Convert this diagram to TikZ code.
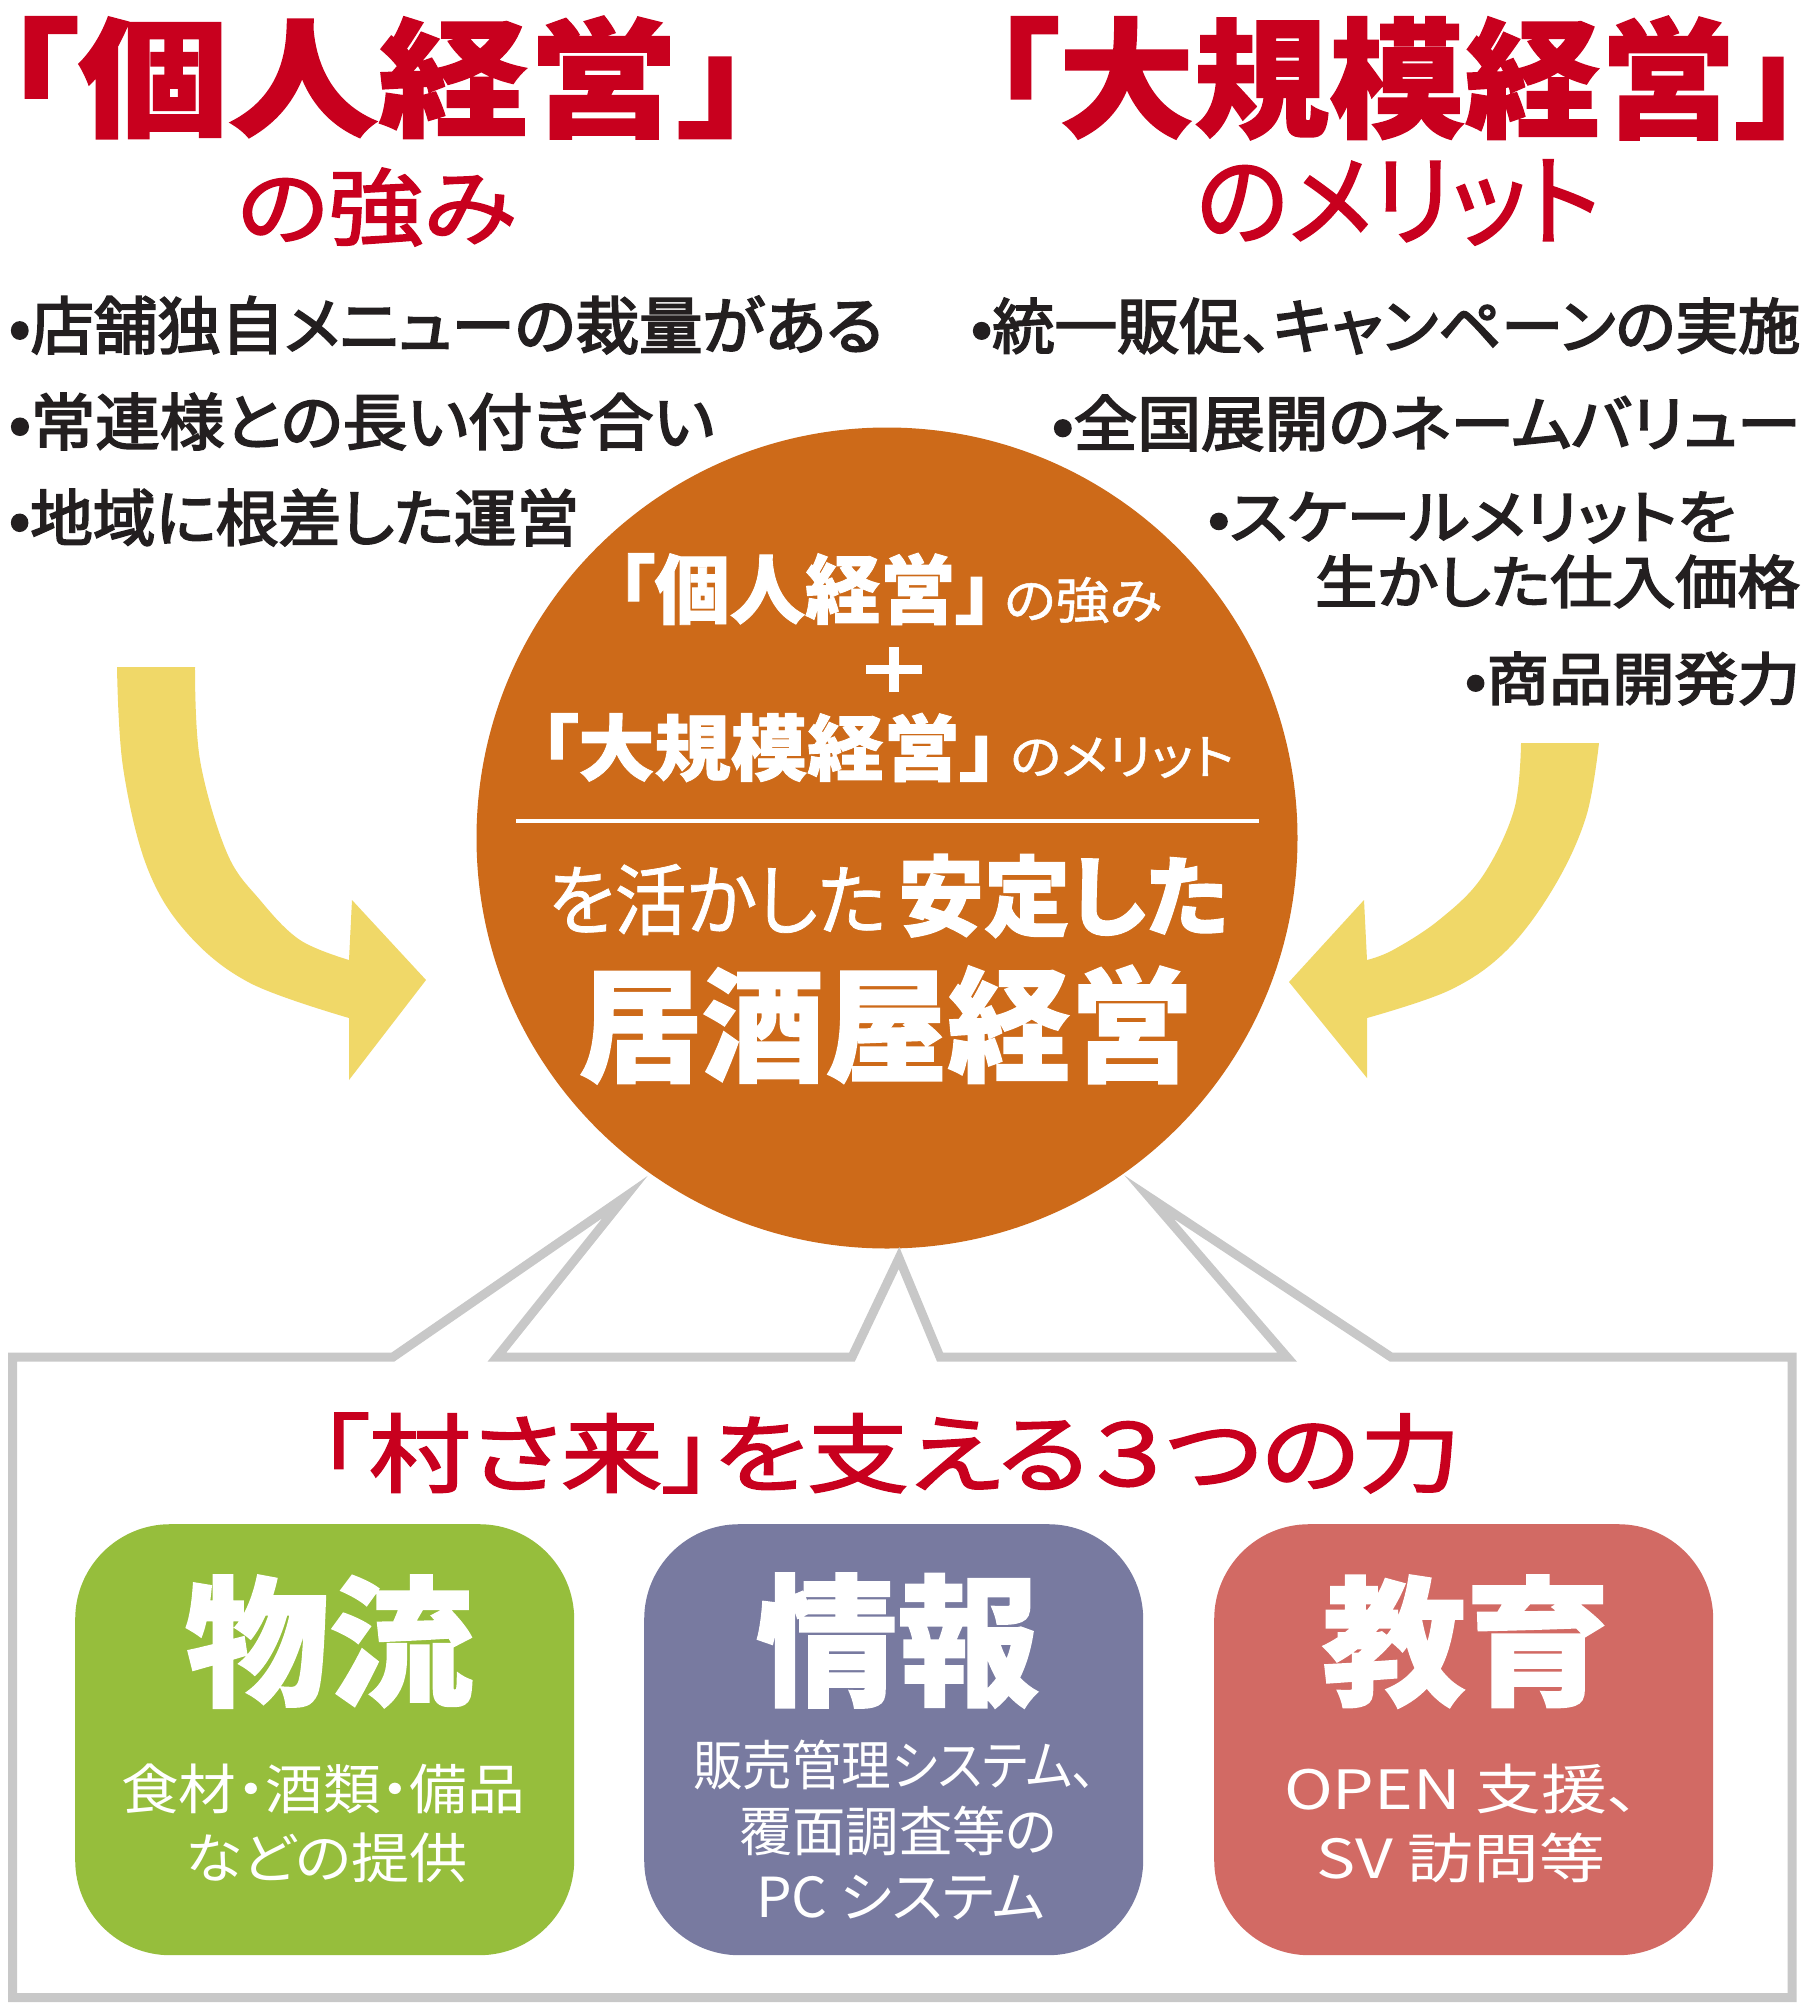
\documentclass[tikz,border=0pt]{standalone}
\usepackage{fontspec}
\usepackage{graphicx}
\newfontfamily\jpr{Noto Sans CJK JP}[RawFeature=+palt]
\newfontfamily\jpm{Noto Sans CJK JP}[RawFeature=+palt,FakeBold=1]
\newfontfamily\jpmm{Noto Sans CJK JP}[RawFeature=+palt,FakeBold=2]
\newfontfamily\jpmb{Noto Sans CJK JP}[RawFeature=+palt,FakeBold=3]
\newfontfamily\jph{Noto Sans CJK JP}[RawFeature=+palt,BoldFeatures={FakeBold=1.2}]
\definecolor{jred}{RGB}{200,0,30}
\definecolor{jdark}{RGB}{35,31,32}
\definecolor{jorange}{RGB}{205,106,25}
\definecolor{jyellow}{RGB}{240,216,104}
\definecolor{jgray}{RGB}{200,200,200}
\definecolor{jgreen}{RGB}{150,190,60}
\definecolor{jpurple}{RGB}{120,122,160}
\definecolor{jsalmon}{RGB}{210,106,100}
\newcommand\fitbx[3]{\resizebox*{#1pt}{#2pt}{#3}}
\begin{document}
\begin{tikzpicture}[x=1pt,y=-1pt,
  txt/.style={inner sep=0pt,outer sep=0pt,anchor=north west},
  rbox/.style={rectangle,rounded corners=95pt,inner sep=0pt,anchor=north west,
    minimum width=499pt,minimum height=431pt},
  bubble/.style={draw=jgray,line width=9pt,line join=miter,miter limit=20}]
\useasboundingbox (0,0) rectangle (1810,2012);
\fill[white] (0,0) rectangle (1810,2012);

% titles
\node[txt,text=jred] (t1) at (3,16) {\fitbx{750}{123}{\jph\bfseries 「個人経営」}};
\node[txt,text=jred] (t2) at (237,168) {\fitbx{279}{78}{\jpmm の強み}};
\node[txt,text=jred] (t3) at (991,16) {\fitbx{812}{124}{\jph\bfseries 「大規模経営」}};
\node[txt,text=jred] (t4) at (1196,160) {\fitbx{404}{85}{\jpmm のメリット}};

% bullet lists
\node[txt,text=jdark] (l1) at (9,296) {\fitbx{874}{58}{\jpmb •店舗独自メニューの裁量がある}};
\node[txt,text=jdark] (l2) at (9,393) {\fitbx{705}{57}{\jpmb •常連様との長い付き合い}};
\node[txt,text=jdark] (l3) at (9,489) {\fitbx{570}{57}{\jpmb •地域に根差した運営}};
\node[txt,text=jdark] (r1) at (971,298) {\fitbx{829}{56}{\jpmb •統一販促、キャンペーンの実施}};
\node[txt,text=jdark] (r2) at (1052,395) {\fitbx{748}{56}{\jpmb •全国展開のネームバリュー}};
\node[txt,text=jdark] (r3) at (1208,492) {\fitbx{528}{51}{\jpmb •スケールメリットを}};
\node[txt,text=jdark] (r4) at (1315,555) {\fitbx{485}{53}{\jpmb 生かした仕入価格}};
\node[txt,text=jdark] (r5) at (1465,652) {\fitbx{335}{53}{\jpmb •商品開発力}};

% yellow arrows
\fill[jyellow] (117,667) -- (195,667)
  plot[smooth,tension=0.6] coordinates {(195,667) (200,760) (227,853) (260,900) (300,940) (349,960)}
  -- (352,900) -- (426,980) -- (349,1080) --
  plot[smooth,tension=0.6] coordinates {(349,1018) (250,983) (187,933) (147,867) (123,767) (117,667)}
  -- cycle;
\fill[jyellow] (1599,743) -- (1521,743)
  plot[smooth,tension=0.6] coordinates {(1521,743) (1514,810) (1482,877) (1439,920) (1393,950) (1367,960)}
  -- (1364,900) -- (1289,982) -- (1367,1078) --
  plot[smooth,tension=0.6] coordinates {(1367,1018) (1450,990) (1507,950) (1554,887) (1586,817) (1599,743)}
  -- cycle;

% circle
\node[circle,fill=jorange,minimum size=821pt,inner sep=0pt] (circ) at (887,838) {};
\node[txt,text=white] (c1) at (617,553) {\fitbx{376}{72}{\jph\bfseries 「個人経営」}};
\node[txt,text=white] (c1b) at (1004,577) {\fitbx{158}{46}{\jpm の強み}};
\fill[white] (866,665) rectangle (922,674);
\fill[white] (889,647) rectangle (899,692);
\node[txt,text=white] (c3) at (540,713) {\fitbx{458}{69}{\jph\bfseries 「大規模経営」}};
\node[txt,text=white] (c3b) at (1010,737) {\fitbx{224}{41}{\jpm のメリット}};
\coordinate (sepL) at (516,821);
\coordinate (sepR) at (1259,821);
\draw[white,line width=4pt] (sepL) -- (sepR);
\node[txt,text=white] (c4a) at (548,864) {\fitbx{338}{71}{\jpm を活かした}};
\node[txt,text=white] (c4b) at (898,854) {\fitbx{330}{84}{\jph\bfseries 安定した}};
\node[txt,text=white] (c5) at (579,965) {\fitbx{614}{119}{\jph\bfseries 居酒屋経営}};

% speech-bubble frame
\draw[bubble] (12.5,1357) -- (393,1357) -- (625,1197) -- (497,1357) -- (852,1357)
  -- (899,1258) -- (940,1357) -- (1287,1357) -- (1149,1197) -- (1391,1357)
  -- (1792,1357) -- (1792,1997.5) -- (12.5,1997.5) -- cycle;

\node[txt,text=jred] (bt) at (318,1413) {\fitbx{1142}{80}{\jpmm 「村さ来」を支える３つの力}};

% three boxes
\node[rbox,fill=jgreen] (g) at (75,1524) {};
\node[rbox,fill=jpurple] (p) at (644,1524) {};
\node[rbox,fill=jsalmon] (s) at (1214,1524) {};

\node[txt,text=white] (g1) at (185,1575) {\fitbx{288}{133}{\jph\bfseries 物流}};
\node[txt,text=white] (p1) at (756,1573) {\fitbx{283}{135}{\jph\bfseries 情報}};
\node[txt,text=white] (s1) at (1322,1575) {\fitbx{288}{133}{\jph\bfseries 教育}};

\node[txt,text=white] (g2) at (121,1764) {\fitbx{404}{50}{\jpr 食材・酒類・備品}};
\node[txt,text=white] (g3) at (185,1833) {\fitbx{283}{50}{\jpr などの提供}};
\node[txt,text=white] (p2) at (693,1740) {\fitbx{404}{50}{\jpr 販売管理システム、}};
\node[txt,text=white] (p3) at (739,1806) {\fitbx{318}{50}{\jpr 覆面調査等の}};
\node[txt,text=white] (p4) at (756,1875) {\fitbx{289}{45}{\jpr PC システム}};
\node[txt,text=white] (s2) at (1284,1764) {\fitbx{356}{50}{\jpr OPEN 支援、}};
\node[txt,text=white] (s3) at (1316,1833) {\fitbx{289}{50}{\jpr SV 訪問等}};
\end{tikzpicture}
\end{document}
